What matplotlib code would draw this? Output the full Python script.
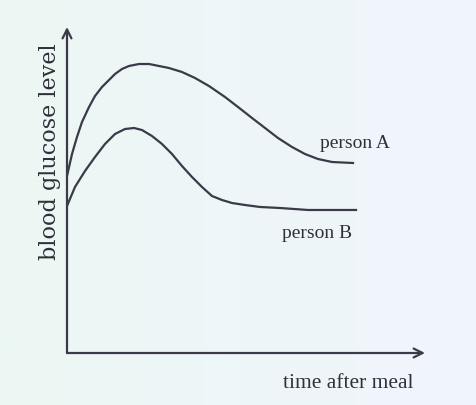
import numpy as np
import matplotlib
matplotlib.use("Agg")
import matplotlib.pyplot as plt
from matplotlib.colors import LinearSegmentedColormap

# kurvalar (sxematik, o'qlarda birlik yo'q)
time_a = [0.000, 0.140, 0.279, 0.419, 0.615, 0.782, 0.978, 1.173, 1.341,
          1.536, 1.732, 2.011, 2.291, 2.570, 2.849, 3.212, 3.575, 3.966,
          4.413, 4.777, 5.168, 5.531, 5.894, 6.285, 6.648, 7.011, 7.402, 7.989]
glucose_a = [5.429, 6.104, 6.626, 7.086, 7.546, 7.883, 8.160, 8.374, 8.558,
             8.712, 8.804, 8.865, 8.865, 8.804, 8.742, 8.620, 8.436, 8.190,
             7.853, 7.546, 7.209, 6.902, 6.595, 6.319, 6.104, 5.951, 5.859, 5.828]

time_b = [0.000, 0.223, 0.503, 0.782, 1.061, 1.341, 1.620, 1.872, 2.095,
          2.374, 2.654, 2.933, 3.212, 3.492, 3.771, 4.050, 4.330, 4.609,
          4.972, 5.391, 5.950, 6.732, 8.073]
glucose_b = [4.509, 5.092, 5.583, 6.012, 6.411, 6.718, 6.871, 6.902, 6.840,
             6.656, 6.411, 6.104, 5.736, 5.399, 5.092, 4.816, 4.693, 4.601,
             4.540, 4.479, 4.448, 4.387, 4.387]

labels = ["person A", "person B"]
x_title = "time after meal"
y_title = "blood glucose level"

INK = "#3a3a48"
TEXT = "#30303a"

fig = plt.figure(figsize=(4.77, 4.06), dpi=100)

# fon: och yashil-ko'k gradient
bg = fig.add_axes([0, 0, 1, 1])
cmap = LinearSegmentedColormap.from_list("bg", ["#ecf7f2", "#eef6f9", "#f0f5fb"])
bg.imshow(np.linspace(0, 1, 256).reshape(1, -1), aspect="auto", cmap=cmap,
          extent=[0, 1, 0, 1])
bg.axis("off")

ax = fig.add_axes([67 / 477, 1 - 354 / 406, 358 / 477, 326 / 406])
ax.set_xlim(0, 10)
ax.set_ylim(0, 10)
ax.axis("off")
ax.patch.set_alpha(0)

ax.plot(time_a, glucose_a, color=INK, lw=1.6, solid_joinstyle="round")
ax.plot(time_b, glucose_b, color=INK, lw=1.6, solid_joinstyle="round")

# o'qlar strelka bilan
arrow = dict(arrowstyle="->", color=INK, lw=1.6, mutation_scale=16,
             shrinkA=0, shrinkB=0)
ax.annotate("", xy=(10, 0), xytext=(0, 0), arrowprops=arrow, annotation_clip=False)
ax.annotate("", xy=(0, 10), xytext=(0, 0), arrowprops=arrow, annotation_clip=False)

ax.text(7.07, 6.47, labels[0], family="Liberation Serif", fontsize=14,
        color=TEXT, va="center", ha="left")
ax.text(6.01, 3.71, labels[1], family="Liberation Serif", fontsize=14,
        color=TEXT, va="center", ha="left")
ax.text(6.03, -0.89, x_title, family="Liberation Serif", fontsize=15.5,
        color=TEXT, va="center", ha="left", clip_on=False)
ax.text(-0.47, 6.2, y_title, family="DejaVu Serif", fontsize=16,
        color=TEXT, va="center", ha="center", rotation=90, clip_on=False)

plt.savefig("out.png", dpi=100)
